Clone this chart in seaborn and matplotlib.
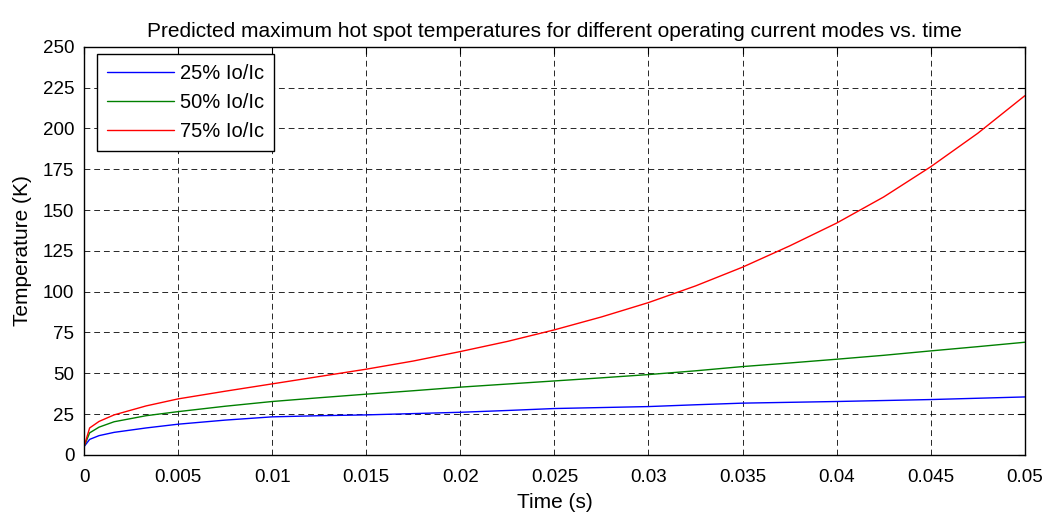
import numpy as np
import pandas as pd
import matplotlib
matplotlib.use('Agg')
import matplotlib.pyplot as plt
import seaborn as sns

# time (s) and predicted hot spot temperature (K)
time_s = [0, 0.0003, 0.0008, 0.0016, 0.0033, 0.005, 0.0075, 0.01, 0.0125,
          0.015, 0.0175, 0.02, 0.0225, 0.025, 0.0275, 0.03, 0.0325, 0.035,
          0.0375, 0.04, 0.0425, 0.045, 0.0475, 0.05]
temp_25 = [5, 9.5, 11.8, 13.8, 16.5, 18.8, 21.3, 23.3, 24.0, 24.5, 25.3, 26.1,
           27.2, 28.4, 29.0, 29.6, 30.7, 31.7, 32.2, 32.7, 33.3, 33.9, 34.7, 35.5]
temp_50 = [5, 13.5, 17.0, 20.3, 24.0, 26.5, 29.8, 32.7, 35.0, 37.2, 39.3, 41.5,
           43.4, 45.3, 47.2, 49.2, 51.5, 54.1, 56.3, 58.6, 61.0, 63.7, 66.3, 69.0]
temp_75 = [5, 16.5, 20.5, 24.5, 30.0, 34.3, 39.0, 43.5, 48.0, 52.5, 57.5, 63.3,
           69.5, 76.6, 84.5, 93.3, 103.5, 115.0, 128.0, 142.0, 158.0, 176.5,
           197.0, 220.0]
series_names = ['25% Io/Ic', '50% Io/Ic', '75% Io/Ic']
series_colors = ['#0000ff', '#008000', '#ff0000']

df = pd.concat([
    pd.DataFrame({'Time': time_s, 'Temp': vals, 'Mode': name})
    for name, vals in zip(series_names, [temp_25, temp_50, temp_75])
], ignore_index=True)

sns.set_style('white')
plt.rcParams['font.family'] = ['Liberation Sans', 'DejaVu Sans']
plt.rcParams['text.color'] = 'black'
plt.rcParams['axes.labelcolor'] = 'black'

fig = plt.figure(figsize=(10.5, 5.14), dpi=100)
ax = fig.add_axes([0.080, 0.115, 0.896, 0.794])

sns.lineplot(data=df, x='Time', y='Temp', hue='Mode', palette=series_colors,
             hue_order=series_names, linewidth=1.0, ax=ax, legend=True)

ax.set_xlim(0, 0.05)
ax.set_ylim(0, 250)
ax.set_xticks(np.arange(0, 0.0501, 0.005))
ax.set_xticklabels(['0', '0.005', '0.01', '0.015', '0.02', '0.025', '0.03',
                    '0.035', '0.04', '0.045', '0.05'])
ax.set_yticks(np.arange(0, 251, 25))
ax.tick_params(direction='in', top=True, right=True, length=5, width=0.8,
               labelsize=13.5, colors='black')
ax.tick_params(axis='x', pad=10)
ax.tick_params(axis='y', pad=7)
ax.grid(True, color='black', linestyle=(0, (6, 4)), linewidth=0.7, alpha=0.85)
for s in ax.spines.values():
    s.set_color('black')
    s.set_linewidth(1.0)

ax.set_xlabel('Time (s)', fontsize=15, labelpad=5, color='black')
ax.set_ylabel('Temperature (K)', fontsize=15, labelpad=8, color='black')
ax.set_title('Predicted maximum hot spot temperatures for different operating current modes vs. time',
             fontsize=15, pad=7, color='black')

leg = ax.legend(loc='upper left', bbox_to_anchor=(0.0138, 0.983),
                fontsize=14.5, frameon=True, fancybox=False,
                edgecolor='black', framealpha=1, borderaxespad=0,
                borderpad=0.5, handlelength=3.3, handletextpad=0.3,
                labelspacing=0.5)
leg.get_frame().set_linewidth(1.0)
for t in leg.get_texts():
    t.set_color('black')

fig.savefig('out.png', dpi=100)
